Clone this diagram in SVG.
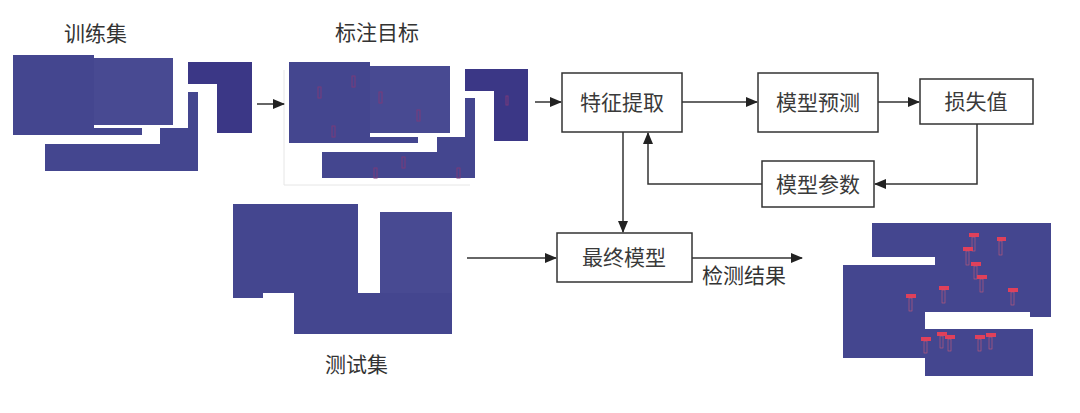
<svg xmlns="http://www.w3.org/2000/svg" width="1080" height="413" viewBox="0 0 1080 413">
<defs>
<style>
.t{font-family:"Liberation Sans","Noto Sans CJK SC",sans-serif;font-size:21px;fill:#333;}
.bt{font-family:"Liberation Sans","Noto Sans CJK SC",sans-serif;font-size:21px;fill:#3a3a3a;text-anchor:middle;dominant-baseline:central;}
.box{fill:#fff;stroke:#333;stroke-width:1.5;}
.ln{fill:none;stroke:#333;stroke-width:1.5;}
.pl{fill:#44468f;}
.pm{fill:#484a92;}
.pd{fill:#3b3786;}
.tg{fill:none;stroke:#7a3a7a;stroke-width:1;}
.rl{fill:#e0405a;}
.rb{fill:none;stroke:#c85a78;stroke-width:0.6;}
</style>
<marker id="ah" markerWidth="12" markerHeight="10" refX="11" refY="5" orient="auto" markerUnits="userSpaceOnUse">
<path d="M0,0 L12,5 L0,10 z" fill="#222"/>
</marker>
</defs>
<rect width="1080" height="413" fill="#fff"/>

<g id="train-set">
<text class="t" x="64" y="41">训练集</text>
<polygon class="pl" points="13,55 94,55 94,128 142,128 142,135 13,135"/>
<rect class="pm" x="94" y="58" width="79" height="67"/>
<polygon class="pl" points="188,92 198,92 198,171 45,171 45,144 160,144 160,128 188,128"/>
<polygon class="pd" points="188,62 252,62 252,133 217,133 217,84 188,84"/>
</g>

<g id="annotated">
<text class="t" x="335" y="40">标注目标</text>
<path d="M284,70 V185 H470" fill="none" stroke="#e6e6e6" stroke-width="1"/>
<polygon class="pl" points="289,62 370,62 370,137 418,137 418,143 289,143"/>
<rect class="pm" x="370" y="66" width="80" height="67"/>
<polygon class="pl" points="465,98 475,98 475,178 322,178 322,152 437,152 437,137 465,137"/>
<polygon class="pd" points="465,69 528,69 528,141 494,141 494,91 465,91"/>
<rect class="tg" x="318" y="87" width="3" height="11"/>
<rect class="tg" x="352" y="76" width="3" height="11"/>
<rect class="tg" x="379" y="92" width="3" height="11"/>
<rect class="tg" x="417" y="110" width="3" height="11"/>
<rect class="tg" x="332" y="126" width="3" height="11"/>
<rect class="tg" x="402" y="157" width="3" height="11"/>
<rect class="tg" x="374" y="168" width="3" height="10"/>
<rect class="tg" x="457" y="168" width="3" height="10"/>
<rect class="tg" x="506" y="96" width="2" height="9"/>
</g>

<g id="test-set">
<polygon class="pl" points="233,204 358,204 358,293 263,293 263,298 233,298"/>
<rect class="pm" x="380" y="212" width="72" height="122"/>
<rect class="pl" x="294" y="293" width="158" height="41"/>
<text class="t" x="325" y="372">测试集</text>
</g>

<g id="results">
<polygon class="pl" points="872,223 1051,223 1051,317 1030,317 1030,265 935,265 935,257 872,257"/>
<polygon class="pl" points="843,265 1030,265 1030,312 925,312 925,358 843,358"/>
<rect class="pl" x="925" y="329" width="108" height="47"/>
<g>
<rect class="rl" x="969" y="233" width="10" height="4"/><rect class="rb" x="972" y="237" width="3" height="14"/>
<rect class="rl" x="997" y="237" width="9" height="4"/><rect class="rb" x="999" y="241" width="3" height="14"/>
<rect class="rl" x="963" y="247" width="10" height="4"/><rect class="rb" x="966" y="251" width="3" height="14"/>
<rect class="rl" x="971" y="262" width="10" height="4"/><rect class="rb" x="974" y="266" width="3" height="13"/>
<rect class="rl" x="977" y="275" width="10" height="4"/><rect class="rb" x="980" y="279" width="3" height="13"/>
<rect class="rl" x="939" y="286" width="10" height="4"/><rect class="rb" x="942" y="290" width="3" height="13"/>
<rect class="rl" x="1008" y="288" width="10" height="4"/><rect class="rb" x="1011" y="292" width="3" height="13"/>
<rect class="rl" x="906" y="294" width="10" height="4"/><rect class="rb" x="909" y="298" width="3" height="13"/>
<rect class="rl" x="921" y="337" width="10" height="4"/><rect class="rb" x="924" y="341" width="3" height="12"/>
<rect class="rl" x="937" y="332" width="10" height="4"/><rect class="rb" x="940" y="336" width="3" height="12"/>
<rect class="rl" x="945" y="335" width="10" height="4"/><rect class="rb" x="948" y="339" width="3" height="12"/>
<rect class="rl" x="975" y="335" width="10" height="4"/><rect class="rb" x="978" y="339" width="3" height="12"/>
<rect class="rl" x="986" y="333" width="10" height="4"/><rect class="rb" x="989" y="337" width="3" height="12"/>
</g>
</g>

<g id="connectors">
<line class="ln" x1="257" y1="104" x2="284" y2="104" marker-end="url(#ah)"/>
<line class="ln" x1="535" y1="102" x2="561" y2="102" marker-end="url(#ah)"/>
<line class="ln" x1="682" y1="102" x2="757" y2="102" marker-end="url(#ah)"/>
<line class="ln" x1="878" y1="102" x2="919" y2="102" marker-end="url(#ah)"/>
<polyline class="ln" points="977,124 977,184 875,184" marker-end="url(#ah)"/>
<polyline class="ln" points="762,184 648,184 648,133" marker-end="url(#ah)"/>
<line class="ln" x1="623" y1="132" x2="623" y2="232" marker-end="url(#ah)"/>
<line class="ln" x1="467" y1="258" x2="556" y2="258" marker-end="url(#ah)"/>
<line class="ln" x1="692" y1="258" x2="802" y2="258" marker-end="url(#ah)"/>
<text class="t" x="702" y="283">检测结果</text>
</g>

<g id="feature"><rect class="box" x="562" y="73" width="120" height="59"/><text class="bt" x="622" y="102">特征提取</text></g>
<g id="predict"><rect class="box" x="758" y="73" width="120" height="59"/><text class="bt" x="818" y="102">模型预测</text></g>
<g id="loss"><rect class="box" x="920" y="79" width="113" height="45"/><text class="bt" x="976" y="101">损失值</text></g>
<g id="params"><rect class="box" x="762" y="161" width="112" height="46"/><text class="bt" x="818" y="184">模型参数</text></g>
<g id="final"><rect class="box" x="557" y="233" width="135" height="49"/><text class="bt" x="624" y="257">最终模型</text></g>
</svg>
